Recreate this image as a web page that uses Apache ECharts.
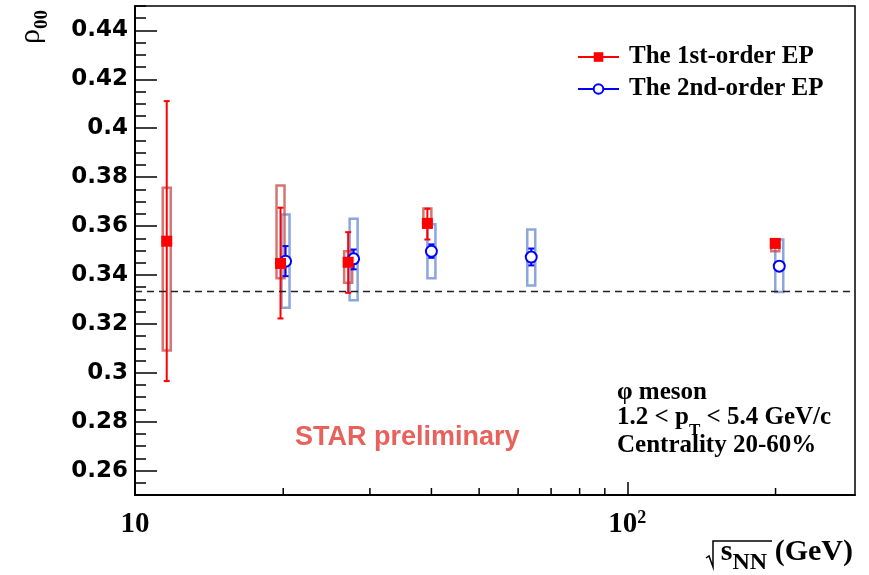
<!DOCTYPE html>
<html>
<head>
<meta charset="utf-8">
<script src="https://cdn.jsdelivr.net/npm/echarts@6/dist/echarts.min.js"></script>
<style>
html,body{margin:0;padding:0;background:#fff;}
#chart{width:869px;height:575px;}
</style>
</head>
<body>
<div id="chart"></div>
<script>
// ---- data ----
const seriesNames = ['The 1st-order EP', 'The 2nd-order EP'];

const energies1 = [11.6, 19.75, 27.1, 39.25, 199.7];
const rho1      = [0.3538, 0.3447, 0.3452, 0.3611, 0.3529];
const stat1Low  = [0.2966, 0.3222, 0.3327, 0.3545, 0.3518];
const stat1High = [0.4111, 0.3675, 0.3575, 0.3671, 0.3540];
const sys1Low   = [0.3091, 0.3386, 0.3368, 0.3593, 0.3497];
const sys1High  = [0.3757, 0.3766, 0.3497, 0.3672, 0.3542];

const energies2 = [20.22, 27.8, 40.0, 63.8, 203.5];
const rho2      = [0.3456, 0.3466, 0.3497, 0.3473, 0.3436];
const stat2Low  = [0.3395, 0.3423, 0.3470, 0.3439, 0.3426];
const stat2High = [0.3518, 0.3504, 0.3525, 0.3508, 0.3446];
const sys2Low   = [0.3266, 0.3297, 0.3386, 0.3357, 0.3330];
const sys2High  = [0.3647, 0.3630, 0.3607, 0.3586, 0.3545];

const referenceLine = 1 / 3;

const xMin = 10, xMax = 290;
const yMin = 0.25, yMax = 0.45;
const yMajorTicks = [0.26, 0.28, 0.30, 0.32, 0.34, 0.36, 0.38, 0.40, 0.42, 0.44];
const xMinorTicks = [20, 30, 40, 50, 60, 70, 80, 90, 200];

// ---- styles ----
const RED = '#ff0000';
const BLUE = '#0000ff';
const RED_BOX = 'rgba(200,70,70,0.75)';
const BLUE_BOX = 'rgba(100,135,210,0.75)';
const SERIF = '"Liberation Serif", "DejaVu Serif", serif';
const SANS = '"Liberation Sans", Arial, sans-serif';
const WIDE_SANS = '"DejaVu Sans", "Liberation Sans", sans-serif';

function boxSeries(name, xs, lo, hi, color) {
  return {
    name: name, type: 'custom', z: 2, silent: true,
    data: xs.map((x, i) => [x, lo[i], hi[i]]),
    encode: { x: 0, y: [1, 2] },
    renderItem: function (params, api) {
      const x = api.value(0);
      const top = api.coord([x, api.value(2)]);
      const bot = api.coord([x, api.value(1)]);
      const w = 8;
      return {
        type: 'rect',
        shape: { x: top[0] - w / 2, y: top[1], width: w, height: bot[1] - top[1] },
        style: { fill: 'none', stroke: color, lineWidth: 2.5 }
      };
    }
  };
}

function errSeries(name, xs, ys, lo, hi, color, gap) {
  return {
    name: name, type: 'custom', z: 3, silent: true,
    data: xs.map((x, i) => [x, ys[i], lo[i], hi[i]]),
    encode: { x: 0, y: [1, 2, 3] },
    renderItem: function (params, api) {
      const x = api.value(0);
      const c = api.coord([x, api.value(1)]);
      const t = api.coord([x, api.value(3)]);
      const b = api.coord([x, api.value(2)]);
      const cap = 3;
      const st = { stroke: color, lineWidth: 2 };
      const children = [];
      if (c[1] - gap > t[1]) children.push({ type: 'line', shape: { x1: c[0], y1: t[1], x2: c[0], y2: c[1] - gap }, style: st });
      if (b[1] > c[1] + gap) children.push({ type: 'line', shape: { x1: c[0], y1: c[1] + gap, x2: c[0], y2: b[1] }, style: st });
      children.push({ type: 'line', shape: { x1: c[0] - cap, y1: t[1], x2: c[0] + cap, y2: t[1] }, style: st });
      children.push({ type: 'line', shape: { x1: c[0] - cap, y1: b[1], x2: c[0] + cap, y2: b[1] }, style: st });
      return { type: 'group', children: children };
    }
  };
}

const chart = echarts.init(document.getElementById('chart'), null, { renderer: 'canvas' });

const option = {
  animation: false,
  backgroundColor: '#fff',
  grid: {
    left: 135, right: 14, top: 6, bottom: 80,
    outerBoundsMode: 'none', containLabel: false,
    show: true, borderColor: '#000', borderWidth: 1.5, backgroundColor: 'transparent'
  },
  legend: {
    orient: 'vertical', left: 577, top: 44, padding: 0,
    itemWidth: 41, itemHeight: 12, itemGap: 6,
    data: seriesNames,
    textStyle: { fontFamily: SERIF, fontWeight: 'bold', fontSize: 25, color: '#000', lineHeight: 26, padding: [0, 0, 0, 5] },
    lineStyle: { width: 2, opacity: 1 },
    selectedMode: false
  },
  xAxis: {
    type: 'log', logBase: 10, min: xMin, max: xMax,
    axisLine: { onZero: false, lineStyle: { color: '#000', width: 2 } },
    axisTick: { inside: true, length: 13, lineStyle: { color: '#000', width: 1.5 } },
    splitLine: { show: false },
    axisLabel: {
      margin: 14, showMaxLabel: false,
      formatter: function (v) { return v < 50 ? '{b|10}' : '{b|10}{s|2}'; },
      rich: {
        b: { fontFamily: SERIF, fontWeight: 'bold', fontSize: 29, color: '#000', lineHeight: 30, verticalAlign: 'bottom' },
        s: { fontFamily: SERIF, fontWeight: 'bold', fontSize: 18, color: '#000', lineHeight: 18, verticalAlign: 'top' }
      }
    }
  },
  yAxis: [
    {
      type: 'value', min: yMin, max: yMax, interval: 0.005, position: 'left',
      axisLine: { show: true, lineStyle: { color: '#000', width: 2 } },
      axisTick: { inside: true, length: 11, lineStyle: { color: '#000', width: 1.5 } },
      axisLabel: { show: false },
      splitLine: { show: false }
    },
    {
      type: 'value', min: yMin, max: yMax, position: 'left', offset: 0,
      axisLine: { show: false },
      axisTick: { show: true, inside: true, length: 22, customValues: yMajorTicks, lineStyle: { color: '#000', width: 1.5 } },
      axisLabel: {
        customValues: yMajorTicks, margin: 7,
        fontFamily: WIDE_SANS, fontWeight: 'bold', fontSize: 23, color: '#000',
        formatter: function (v) { return String(parseFloat(Number(v).toFixed(2))); }
      },
      splitLine: { show: false }
    }
  ],
  series: [
    {
      name: 'xMinorTicks', type: 'custom', silent: true, z: 5,
      data: xMinorTicks.map(v => [v, yMin]),
      encode: { x: 0, y: 1 },
      renderItem: function (params, api) {
        const p = api.coord([api.value(0), api.value(1)]);
        return { type: 'line', shape: { x1: p[0], y1: p[1], x2: p[0], y2: p[1] - 7 }, style: { stroke: '#000', lineWidth: 1.5 } };
      }
    },
    boxSeries('sys2', energies2, sys2Low, sys2High, BLUE_BOX),
    boxSeries('sys1', energies1, sys1Low, sys1High, RED_BOX),
    errSeries('stat2', energies2, rho2, stat2Low, stat2High, BLUE, 5),
    errSeries('stat1', energies1, rho1, stat1Low, stat1High, RED, 0),
    {
      name: seriesNames[1], type: 'line', z: 6,
      data: energies2.map((x, i) => [x, rho2[i]]),
      symbol: 'emptyCircle', symbolSize: 11,
      itemStyle: { color: BLUE, borderColor: BLUE, borderWidth: 2 },
      lineStyle: { color: BLUE, width: 2, opacity: 0 },
      silent: true
    },
    {
      name: seriesNames[0], type: 'line', z: 7,
      data: energies1.map((x, i) => [x, rho1[i]]),
      symbol: 'rect', symbolSize: 11,
      itemStyle: { color: RED },
      lineStyle: { color: RED, width: 2, opacity: 0 },
      silent: true,
      markLine: {
        silent: true, symbol: ['none', 'none'], animation: false, precision: 8,
        label: { show: false },
        lineStyle: { color: '#222', width: 1.3, type: [7, 5] },
        data: [{ yAxis: referenceLine }]
      }
    }
  ],
  graphic: [
    {
      type: 'text', left: 295, top: 424,
      style: { text: 'STAR preliminary', fontFamily: SANS, fontWeight: 'bold', fontSize: 27, fill: '#e8615b' }
    },
    {
      type: 'text', x: 617, y: 393,
      style: { text: 'φ meson', fontFamily: SERIF, fontWeight: 'bold', fontSize: 25, fill: '#000', verticalAlign: 'middle' }
    },
    {
      type: 'text', x: 617, y: 405,
      style: {
        text: '{m|1.2 < p}{s|T}{m| < 5.4 GeV/c}',
        rich: {
          m: { fontFamily: SERIF, fontWeight: 'bold', fontSize: 25, fill: '#000', lineHeight: 25, verticalAlign: 'top' },
          s: { fontFamily: SERIF, fontWeight: 'bold', fontSize: 17, fill: '#000', lineHeight: 34, verticalAlign: 'bottom' }
        }
      }
    },
    {
      type: 'text', x: 617, y: 446,
      style: { text: 'Centrality 20-60%', fontFamily: SERIF, fontWeight: 'bold', fontSize: 25, fill: '#000', verticalAlign: 'middle' }
    },
    {
      type: 'text', x: 853, y: 537,
      style: {
        text: '{m|s}{s|NN}{m| (GeV)}', align: 'right',
        rich: {
          m: { fontFamily: SERIF, fontWeight: 'bold', fontSize: 30, fill: '#000', lineHeight: 30, verticalAlign: 'top' },
          s: { fontFamily: SERIF, fontWeight: 'bold', fontSize: 24, fill: '#000', lineHeight: 38, verticalAlign: 'bottom' }
        }
      }
    },
    {
      type: 'polyline',
      shape: { points: [[706, 558], [709, 556], [713, 567], [713, 541], [772, 541]] },
      style: { stroke: '#000', lineWidth: 1.5, fill: 'none' }
    },
    {
      type: 'text', x: 34, y: 27, rotation: Math.PI / 2,
      style: {
        text: '{r|ρ}{s|00}', align: 'center', verticalAlign: 'middle',
        rich: {
          r: { fontFamily: SERIF, fontSize: 30, fill: '#000', lineHeight: 30, verticalAlign: 'top' },
          s: { fontFamily: SERIF, fontWeight: 'bold', fontSize: 19, fill: '#000', lineHeight: 36, verticalAlign: 'bottom' }
        }
      }
    }
  ]
};

chart.setOption(option);
</script>
</body>
</html>
